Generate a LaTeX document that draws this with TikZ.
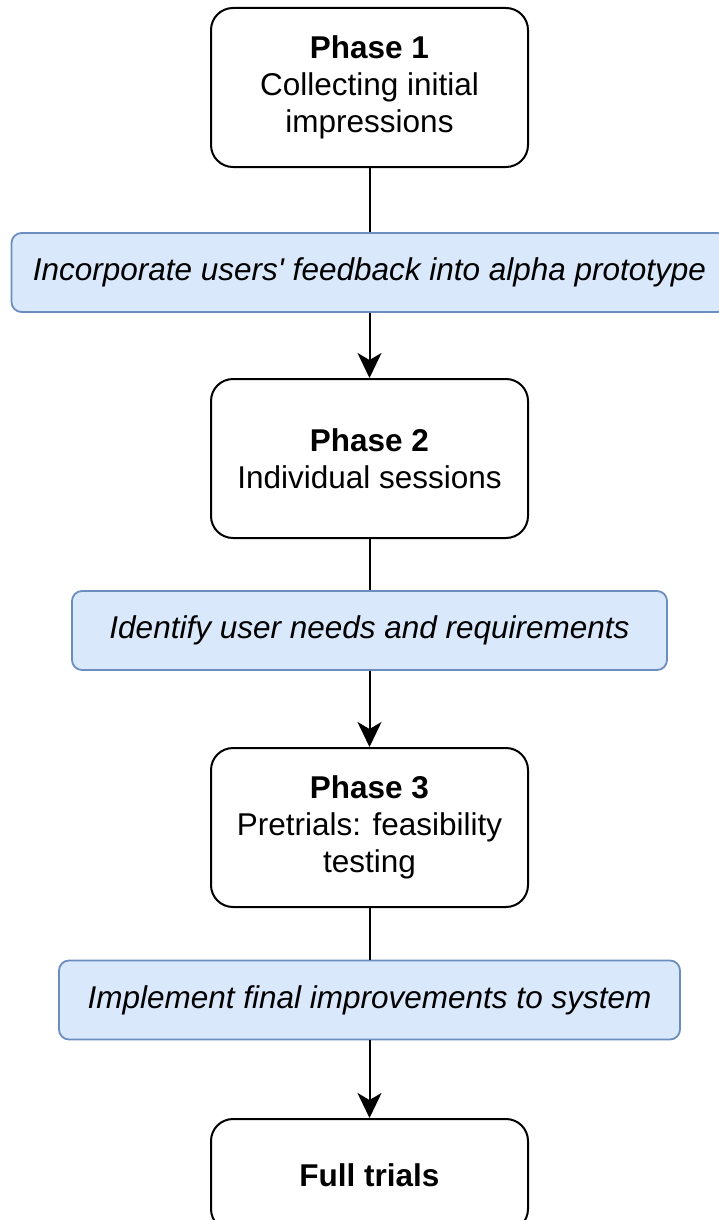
\documentclass[tikz,border=0pt]{standalone}
\usepackage{fontspec}
\setmainfont{Liberation Sans}
\usetikzlibrary{arrows.meta}
\definecolor{bluefill}{HTML}{DAE8FC}
\definecolor{bluedraw}{HTML}{6C8EBF}
\begin{document}
\begin{tikzpicture}[x=1pt,y=-1pt,
  phase/.style={draw=black, line width=2pt, rounded corners=22pt, fill=white,
    minimum width=317pt, align=center, inner sep=0pt,
    font=\fontsize{31.5}{37}\selectfont},
  action/.style={draw=bluedraw, fill=bluefill, line width=1.8pt, rounded corners=10pt,
    minimum height=79pt, inner sep=0pt,
    font=\fontsize{31.5}{37}\selectfont\itshape},
  link/.style={line width=2pt, draw=black},
  arr/.style={link, -{Stealth[length=25pt,width=24pt,inset=7pt]}}
]
\useasboundingbox (0,0) rectangle (719,1220);
\clip (0,0) rectangle (719,1220);
\fill[white] (0,0) rectangle (719,1220);

\node[phase, minimum height=159pt] (p1) at (369.5,87.5)
  {\textbf{Phase 1}\\Collecting initial\\impressions};
\node[action, minimum width=716pt] (b1) at (369.5,272.5)
  {Incorporate users\textquotesingle\ feedback into alpha prototype};
\node[phase, minimum height=159pt] (p2) at (369.5,458.5)
  {\textbf{Phase 2}\\Individual sessions};
\node[action, minimum width=595pt] (b2) at (369.5,630.5)
  {Identify user needs and requirements};
\node[phase, minimum height=159pt] (p3) at (369.5,827.5)
  {\textbf{Phase 3}\\Pretrials: feasibility\\testing};
\node[action, minimum width=621pt] (b3) at (369.5,1000)
  {Implement final improvements to system};
\node[phase, minimum height=112pt] (p4) at (369.5,1175)
  {\textbf{Full trials}};

\draw[link] (p1) -- (b1);
\draw[arr] (b1) -- (p2);
\draw[link] (p2) -- (b2);
\draw[arr] (b2) -- (p3);
\draw[link] (p3) -- (b3);
\draw[arr] (b3) -- (p4);
\end{tikzpicture}
\end{document}
